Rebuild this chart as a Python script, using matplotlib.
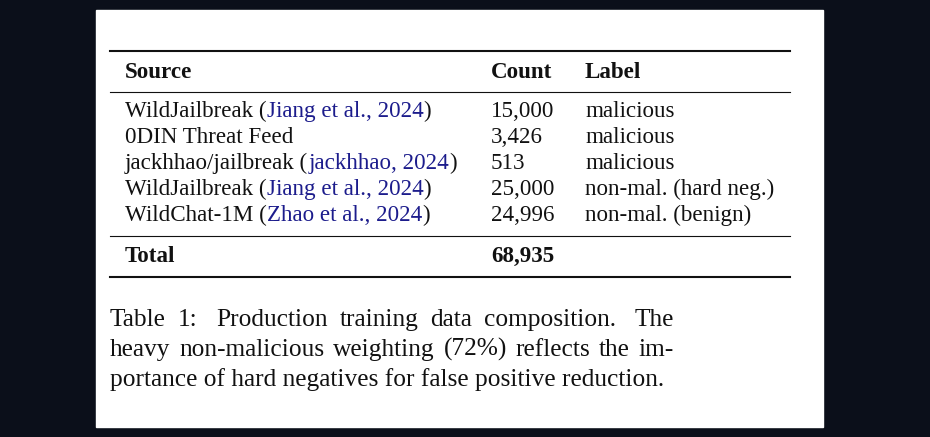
import matplotlib.pyplot as plt

BG = "#0b0f1a"
INK = "#111111"
CITE = "#1c1c8c"
FONT = "Liberation Serif"

headers = ["Source", "Count", "Label"]
sources = ["WildJailbreak", "0DIN Threat Feed", "jackhhao/jailbreak", "WildJailbreak", "WildChat-1M"]
citations = ["Jiang et al., 2024", None, "jackhhao, 2024", "Jiang et al., 2024", "Zhao et al., 2024"]
counts = ["15,000", "3,426", "513", "25,000", "24,996"]
labels = ["malicious", "malicious", "malicious", "non-mal. (hard neg.)", "non-mal. (benign)"]
total_row = ["Total", "68,935"]
caption = [
    "Table 1:  Production training data composition.  The",
    "heavy non-malicious weighting (72%) reflects the im-",
    "portance of hard negatives for false positive reduction.",
]

W, H = 930, 437
fig = plt.figure(figsize=(W / 100, H / 100), dpi=100)
fig.patch.set_facecolor(BG)
ax = fig.add_axes([0, 0, 1, 1])
ax.set_xlim(0, W)
ax.set_ylim(H, 0)
ax.axis("off")
ax.add_patch(plt.Rectangle((96, 10), 727, 417, color="white", zorder=0))
renderer = fig.canvas.get_renderer()

table_fs = 16.6
cap_fs = 18.3
col_x = [125, 491, 585]


def width_of(s, **kw):
    t = ax.text(0, 0, s, fontfamily=FONT, **kw)
    w = t.get_window_extent(renderer=renderer).width
    t.remove()
    return w


def draw_runs(x, y, runs, **kw):
    for s, c in runs:
        t = ax.text(x, y, s, color=c, fontfamily=FONT, va="baseline", **kw)
        x += t.get_window_extent(renderer=renderer).width


def draw_justified(x0, x1, y, line, **kw):
    # spread the words so the line fills x0..x1, as TeX does
    words = line.replace("  ", " \x00").split(" ")
    gaps = [1.6 if w.startswith("\x00") else 1.0 for w in words[1:]]
    words = [w.replace("\x00", "") for w in words]
    widths = [width_of(w, **kw) for w in words]
    unit = (x1 - x0 - sum(widths)) / sum(gaps)
    x = x0
    for i, w in enumerate(words):
        ax.text(x, y, w, color=INK, fontfamily=FONT, va="baseline", **kw)
        if i < len(gaps):
            x += widths[i] + unit * gaps[i]


# rules
ax.plot([110, 790], [51, 51], color=INK, lw=1.5)
ax.plot([110, 790], [92, 92], color=INK, lw=0.8)
ax.plot([110, 790], [236, 236], color=INK, lw=0.8)
ax.plot([110, 790], [277, 277], color=INK, lw=1.5)

for x, h in zip(col_x, headers):
    ax.text(x, 78, h, color=INK, fontfamily=FONT, fontweight="bold",
            fontsize=table_fs, va="baseline")

row_y = [117, 143, 169, 195, 221]
for y, src, cit, cnt, lab in zip(row_y, sources, citations, counts, labels):
    if cit:
        runs = [(src + " (", INK), (cit, CITE), (")", INK)]
    else:
        runs = [(src, INK)]
    draw_runs(col_x[0], y, runs, fontsize=table_fs)
    ax.text(col_x[1], y, cnt, color=INK, fontfamily=FONT, fontsize=table_fs, va="baseline")
    ax.text(col_x[2], y, lab, color=INK, fontfamily=FONT, fontsize=table_fs, va="baseline")

for x, s in zip(col_x, total_row):
    ax.text(x, 262, s, color=INK, fontfamily=FONT, fontweight="bold",
            fontsize=table_fs, va="baseline")

cap_y = [326, 356, 386]
for i, (y, line) in enumerate(zip(cap_y, caption)):
    if i < len(caption) - 1:
        draw_justified(110, 674, y, line, fontsize=cap_fs)
    else:
        ax.text(110, y, line, color=INK, fontfamily=FONT, fontsize=cap_fs, va="baseline")

fig.savefig("out.png", dpi=100, facecolor=BG)
